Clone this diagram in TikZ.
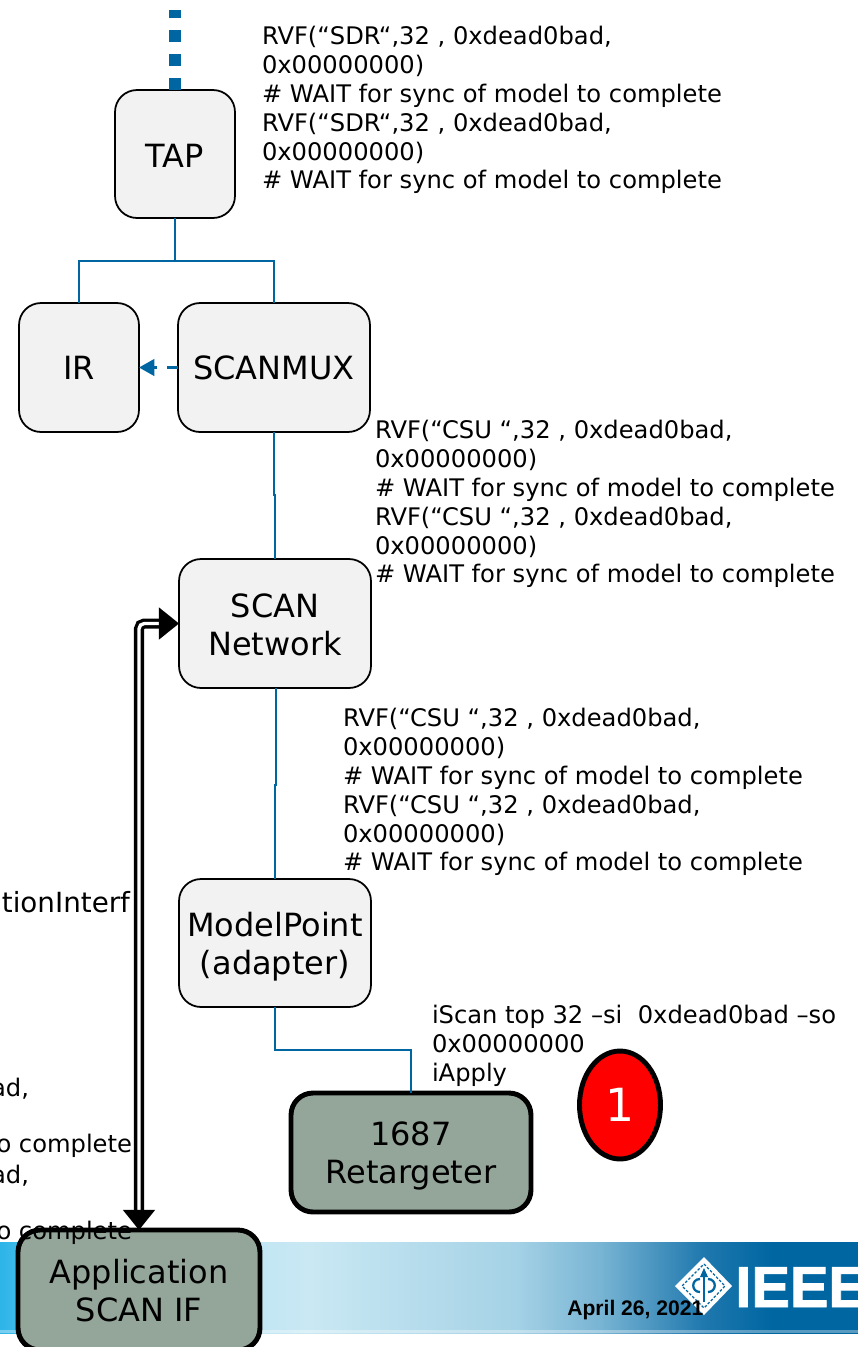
\documentclass[tikz,border=0pt]{standalone}
\usepackage{fontspec}
\setmainfont{DejaVu Sans}
\newfontfamily\arialfont{Liberation Sans}
\newfontfamily\ieeefont[FakeBold=1.5]{Liberation Sans Bold}
\usetikzlibrary{arrows.meta,shapes.geometric}
\definecolor{wireblue}{HTML}{0066A1}
\definecolor{boxgrey}{HTML}{F2F2F2}
\definecolor{boxgreen}{HTML}{94A59A}
\definecolor{banda}{HTML}{2DB4E8}
\definecolor{bandb}{HTML}{AEE2F4}
\definecolor{bandc}{HTML}{C9E8F3}
\definecolor{bandd}{HTML}{A5D2E6}
\definecolor{bande}{HTML}{78B4D3}
\definecolor{bandf}{HTML}{1F78AE}
\pgfdeclarehorizontalshading{bandshade}{100bp}{
  color(0bp)=(banda);
  color(25bp)=(banda);
  color(33bp)=(bandb);
  color(43bp)=(bandc);
  color(55bp)=(bandd);
  color(60bp)=(bande);
  color(66bp)=(bandf);
  color(70bp)=(wireblue);
  color(100bp)=(wireblue)}
\newcommand{\rvflines}[1]{RVF(“#1“,32 , 0xdead0bad,\\0x00000000)\\\# WAIT for sync of model to complete\\RVF(“#1“,32 , 0xdead0bad,\\0x00000000)\\\# WAIT for sync of model to complete}
\newcommand{\dropline}[1]{\rule{0pt}{#1pt}}
\begin{document}
\begin{tikzpicture}[x=0.02cm,y=-0.02cm,
                    block/.style={draw=black,line width=1pt,fill=boxgrey,rounded corners=12.5pt,
                                  inner sep=0pt,outer sep=0pt,align=center,
                                  font=\fontsize{18.2}{21.5}\selectfont},
                    greenblock/.style={block,fill=boxgreen,line width=2.8pt},
                    wire/.style={draw=wireblue,line width=1.1pt},
                    rvftext/.style={anchor=north west,align=left,inner sep=0pt,outer sep=0pt,
                                    font=\fontsize{13.77}{16.4}\selectfont},
                    cuttext/.style={anchor=base east,inner sep=0pt,outer sep=0pt,
                                    font=\fontsize{13.77}{16.4}\selectfont}]

    \clip (0,0) rectangle (858,1347);

    \shade[shading=bandshade] (0,1242) rectangle (858,1333);
    \fill[white,opacity=0.35] (0,1330) rectangle (858,1333);

    \node[block,minimum width=2.4cm,minimum height=2.56cm] (tap) at (175,154) {\dropline{15.3}TAP};
    \node[block,minimum width=2.4cm,minimum height=2.58cm] (ir) at (79,367.5) {IR};
    \node[block,minimum width=3.84cm,minimum height=2.58cm] (scanmux) at (274,367.5) {\dropline{14.3}SCANMUX};
    \node[block,minimum width=3.84cm,minimum height=2.58cm] (network) at (275,623.5) {\dropline{15}SCAN\\Network};
    \node[block,minimum width=3.84cm,minimum height=2.56cm] (modelpoint) at (275,943) {\dropline{18.4}ModelPoint\\(adapter)};
    \node[greenblock,minimum width=4.8cm,minimum height=2.38cm] (retargeter) at (411,1152.5) {\dropline{17.8}1687\\Retargeter};
    \node[greenblock,minimum width=4.84cm,minimum height=2.4cm] (application) at (139,1290) {\dropline{14.5}Application\\SCAN IF};
    \node[ellipse,draw=black,line width=2.8pt,fill=red,inner sep=0pt,minimum width=1.62cm,minimum height=2.16cm,
          text=white,font=\fontsize{26}{30}\selectfont] (badge) at (620,1105) {1};

    \coordinate (tdi) at (175,10);
    \coordinate (tapbus) at (175,261);
    \coordinate (muxkink) at (274,495);
    \coordinate (netout) at (276,688);
    \coordinate (netkink) at (276,785);
    \coordinate (modelbus) at (275,1050);

    \draw[draw=wireblue,line width=6.8pt,dash pattern=on 6.8pt off 6.8pt] (tap.north) -- (tdi);
    \path[wire] (tap.south) -- (tapbus) -| (ir.north);
    \path[wire] (tapbus) -| (scanmux.north);
    \path[wire,line width=1.4pt,dash pattern=on 6pt off 6pt,-{Stealth[length=8.8pt,width=9.5pt,inset=0pt]}] (scanmux.west) -- (ir.east);
    \path[wire] (scanmux.south) -- (muxkink) -| (network.north);
    \path[wire] (netout) -- (netkink) -| (modelpoint.north);
    \path[wire] (modelpoint.south) |- (modelbus) -| (retargeter.north);

    \draw[double=white,double distance=1.9pt,line width=1.9pt,rounded corners=3pt,
          {Triangle[length=11.5pt,width=18pt,inset=0pt]}-{Triangle[length=11.5pt,width=18pt,inset=0pt]}]
          (application.north) |- (network.west);

    \node[rvftext] (rvfsdr) at (262,26.5) {\rvflines{SDR}};
    \node[rvftext] (rvfmux) at (375,420.5) {\rvflines{CSU }};
    \node[rvftext] (rvfnet) at (343,708.5) {\rvflines{CSU }};
    \node[rvftext] (iscan) at (432,1005.5) {iScan top 32 –si \ 0xdead0bad –so\\0x00000000\\iApply};

    \node[cuttext,font=\fontsize{15.8}{18}\selectfont] (interf) at (130,912) {tionInterf};
    \node[cuttext] (cutad) at (29,1096) {ad,};
    \node[cuttext] (cutcomplete) at (132,1152) {o complete};
    \node[cuttext] (cutadb) at (29,1183) {ad,};
    \node[cuttext] (cutcompleteb) at (132,1239) {o complete};

    \fill[white] (704,1257) -- (732,1286) -- (704,1315) -- (675,1286) -- cycle;
    \draw[wireblue,line width=0.7pt,dash pattern=on 1.5pt off 1pt] (704,1264) -- (725,1286) -- (704,1308) -- (682,1286) -- cycle;
    \draw[wireblue,line width=1.6pt] (704,1272) -- (704,1302);
    \fill[wireblue] (704,1268) -- (708,1277) -- (700,1277) -- cycle;
    \draw[wireblue,line width=1.3pt] (700,1279) .. controls (691,1279) and (691,1292) .. (700,1292);
    \draw[wireblue,line width=1.3pt] (708,1279) .. controls (717,1279) and (717,1292) .. (708,1292);

    \node[anchor=base west,inner sep=0pt,text=white,font=\ieeefont\fontsize{32.9}{36}\selectfont] (ieee) at (735,1307) {IEEE};
    \node[anchor=base west,inner sep=0pt,font=\arialfont\bfseries\fontsize{12}{14}\selectfont] (date) at (567,1315) {April 26, 2021};

\end{tikzpicture}
\end{document}
